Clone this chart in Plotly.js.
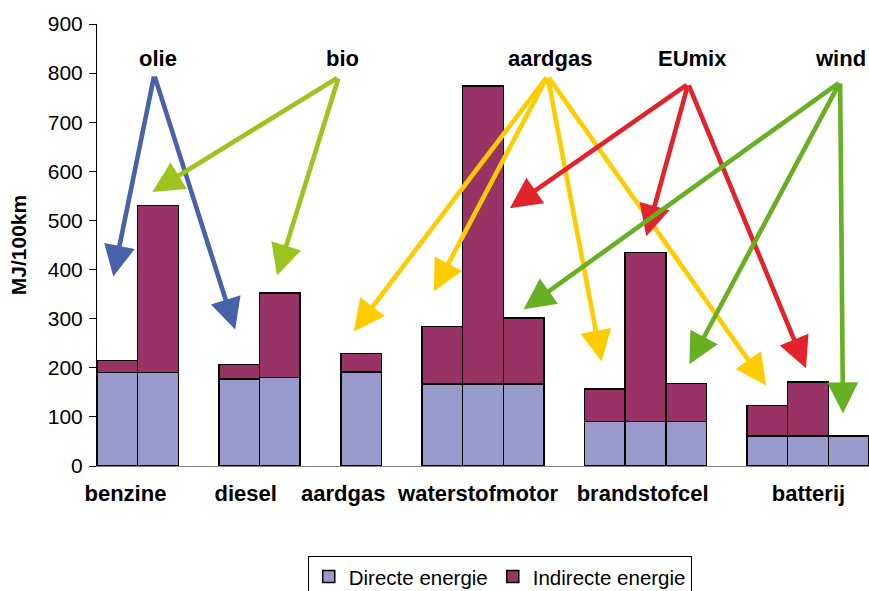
<!DOCTYPE html>
<html>
<head>
<meta charset="utf-8">
<script src="https://cdn.plot.ly/plotly-3.0.1.min.js"></script>
<style>html,body{margin:0;padding:0;background:#fff;}#chart{width:869px;height:591px;}</style>
</head>
<body>
<div id="chart"></div>
<script>
// Bar slots (gaps between groups are empty slots)
var slots = [0, 1, 3, 4, 6, 8, 9, 10, 12, 13, 14, 16, 17, 18];
var directe = [190, 190, 177, 180, 191, 167, 167, 167, 91, 91, 91, 61, 61, 61];
var indirecte = [25, 340, 30, 172, 38, 117, 607, 134, 66, 344, 77, 62, 110, 0];

// Group labels on the x axis
var groupPos = [0.2, 3.16, 5.56, 8.88, 12.93, 17.01];
var groupNames = ["benzine", "diesel", "aardgas", "waterstofmotor", "brandstofcel", "batterij"];

// Energy sources (labels and arrow origins)
var sources = ["olie", "bio", "aardgas", "EUmix", "wind"];
var sourceLabelX = [0.99, 5.55, 10.64, 14.15, 17.81];
var sourceLabelY = [829, 829, 829, 829, 829];
var sourceTailX = [0.91, 5.45, 10.59, 14.05, 17.79];
var sourceTailY = [796, 792, 794, 778, 782];
var sourceColors = ["#4862AA", "#9CC31E", "#FFCC00", "#E2232A", "#67B023"];

// Arrow targets per source
var arrowTargets = [
  [[-0.1, 386], [2.9, 278]],
  [[0.86, 558], [3.93, 388]],
  [[5.82, 274], [7.79, 356], [11.92, 213], [15.97, 164]],
  [[9.66, 525], [13.02, 468], [16.95, 199]],
  [[10.0, 319], [14.08, 207], [17.86, 107]]
];

var font = "Liberation Sans, Arial, sans-serif";

var traces = [
  {
    type: "bar", name: "Directe energie", x: slots, y: directe, width: 1,
    marker: {color: "#9999CC", line: {color: "#000000", width: 1.5}}
  },
  {
    type: "bar", name: "Indirecte energie", x: slots, y: indirecte, width: 1,
    marker: {color: "#993366", line: {color: "#000000", width: 1.5}}
  }
];

var annotations = [];
for (var s = 0; s < sources.length; s++) {
  annotations.push({
    x: sourceLabelX[s], y: sourceLabelY[s], xref: "x", yref: "y",
    text: "<b>" + sources[s] + "</b>", showarrow: false,
    font: {family: font, size: 22, color: "#000"}
  });
  for (var t = 0; t < arrowTargets[s].length; t++) {
    annotations.push({
      x: arrowTargets[s][t][0], y: arrowTargets[s][t][1], xref: "x", yref: "y",
      ax: sourceTailX[s], ay: sourceTailY[s], axref: "x", ayref: "y",
      text: "", showarrow: true, arrowhead: 2, arrowsize: 1.35, arrowwidth: 4.6,
      arrowcolor: sourceColors[s], standoff: 0
    });
  }
}

var layout = {
  width: 869, height: 591,
  margin: {l: 97, r: 0, t: 24, b: 125, autoexpand: false},
  paper_bgcolor: "#fff", plot_bgcolor: "#fff",
  barmode: "stack", bargap: 0,
  font: {family: font, size: 21, color: "#000"},
  showlegend: true,
  legend: {
    orientation: "h", x: 0.273, xanchor: "left", y: -0.203, yanchor: "top",
    bordercolor: "#000", borderwidth: 1, font: {family: font, size: 20.5, color: "#000"},
    traceorder: "normal"
  },
  xaxis: {
    range: [-0.5, 18.5], showgrid: false, zeroline: false,
    showline: true, linecolor: "#808080", linewidth: 1,
    tickvals: groupPos, ticktext: groupNames.map(function(n){return "<b>" + n + "</b>";}),
    ticks: "", ticklabelstandoff: 8, tickfont: {family: font, size: 22, color: "#000"},
    automargin: false
  },
  yaxis: {
    range: [0, 900], dtick: 100, showgrid: false, zeroline: false,
    showline: true, linecolor: "#000", linewidth: 1,
    ticks: "outside", ticklen: 7, tickcolor: "#000", ticklabelstandoff: 2,
    tickfont: {family: font, size: 21, color: "#000"},
    title: {text: "<b>MJ/100km</b>", font: {family: font, size: 21, color: "#000"}, standoff: 15},
    automargin: false
  },
  annotations: annotations
};

Plotly.newPlot("chart", traces, layout, {displayModeBar: false, staticPlot: true});
</script>
</body>
</html>
